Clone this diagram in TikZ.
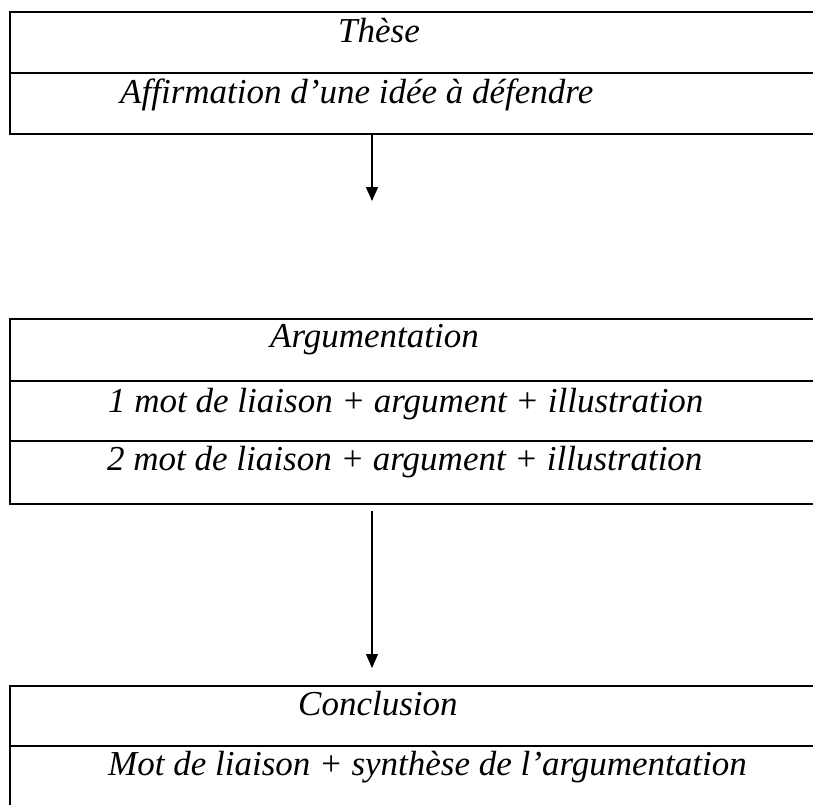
\documentclass[tikz,border=0pt]{standalone}
\usepackage{fontspec}
\setmainfont{Liberation Serif}
\usetikzlibrary{arrows.meta,positioning}
\tikzset{cell/.style={draw=black,line width=1.6pt,minimum width=830pt,inner sep=0pt,anchor=north west},txt/.style={font=\itshape\fontsize{35}{40}\selectfont,anchor=base west,inner sep=0pt},arr/.style={-{Triangle[length=14pt,width=12pt]},draw=black,line width=1.3pt}}

\begin{document}
\begin{tikzpicture}[x=1pt,y=-1pt]
\useasboundingbox (0,0) rectangle (813,804);
\clip (0,0) rectangle (813,804);
\foreach \n/\y/\h in {c1/11/61,c2/72/61,c3/318/62,c4/380/60,c5/440/63,c6/685/60,c7/745/80}{
  \node[cell,minimum height=\h pt] (\n) at (9,\y) {};
}
\node[txt] (t1) at (338,42) {Thèse};
\node[txt] (t2) at (120,103) {Affirmation d’une idée à défendre};
\node[txt] (t3) at (270,347) {Argumentation};
\node[txt] (t4) at (108,412) {1 mot de liaison + argument + illustration};
\node[txt] (t5) at (107,470) {2 mot de liaison + argument + illustration};
\node[txt] (t6) at (298,715) {Conclusion};
\node[txt] (t7) at (108,775) {Mot de liaison + synthèse de l’argumentation};
\coordinate (a1) at (372,201);
\coordinate (a2s) at (372,511);
\coordinate (a2e) at (372,668);
\draw[arr] (c2.south -| a1) -- (a1);
\draw[arr] (a2s) -- (a2e);
\end{tikzpicture}
\end{document}
